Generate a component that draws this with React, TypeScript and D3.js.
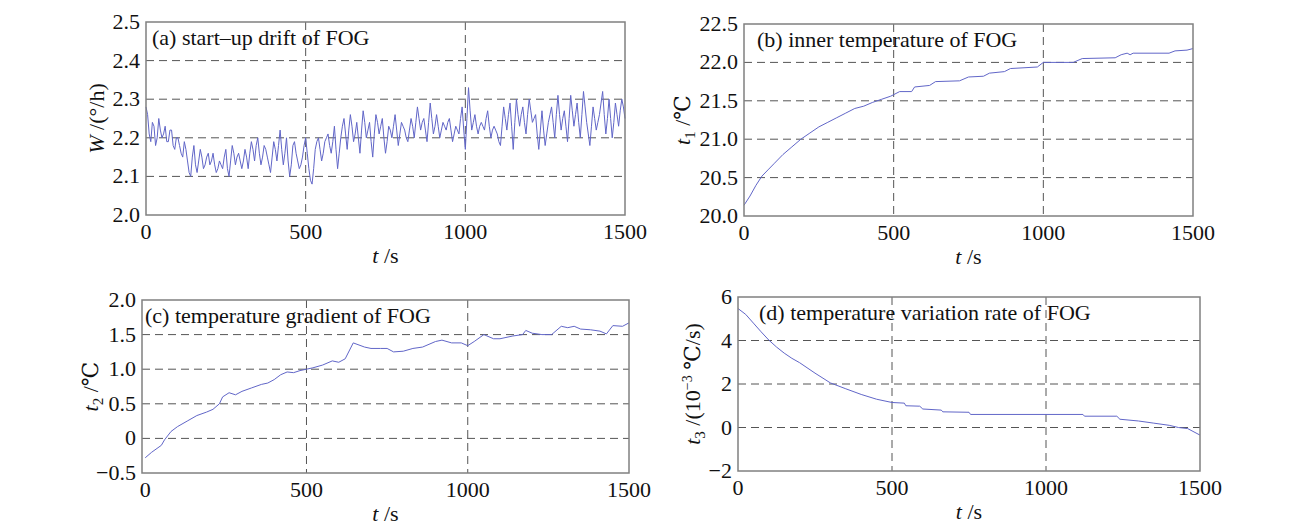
import React from "react";
import * as d3 from "d3";

// (a) start-up drift, sampled every 5 s
const driftTime = d3.range(0, 1501, 5);
const driftValue = [
  2.28, 2.26, 2.21, 2.19, 2.24, 2.23, 2.18, 2.2, 2.25, 2.22, 2.2, 2.21, 2.23, 2.19, 2.19, 2.22, 2.22, 2.18, 2.17, 2.2, 2.2,
  2.18, 2.16, 2.15, 2.19, 2.17, 2.14, 2.11, 2.1, 2.15, 2.18, 2.13, 2.11, 2.14, 2.17, 2.15, 2.12, 2.13, 2.15, 2.16, 2.13,
  2.14, 2.16, 2.13, 2.11, 2.12, 2.14, 2.13, 2.12, 2.15, 2.17, 2.12, 2.1, 2.14, 2.18, 2.16, 2.13, 2.15, 2.16, 2.14, 2.12,
  2.14, 2.17, 2.15, 2.12, 2.16, 2.19, 2.17, 2.14, 2.18, 2.2, 2.16, 2.13, 2.15, 2.18, 2.17, 2.15, 2.13, 2.11, 2.15, 2.19,
  2.17, 2.14, 2.18, 2.22, 2.17, 2.13, 2.16, 2.2, 2.14, 2.1, 2.13, 2.18, 2.19, 2.16, 2.14, 2.12, 2.13, 2.15, 2.18, 2.2,
  2.16, 2.12, 2.09, 2.08, 2.12, 2.17, 2.19, 2.2, 2.17, 2.14, 2.16, 2.19, 2.2, 2.21, 2.18, 2.16, 2.19, 2.23, 2.17, 2.12,
  2.16, 2.2, 2.23, 2.25, 2.21, 2.17, 2.22, 2.26, 2.23, 2.19, 2.21, 2.24, 2.2, 2.16, 2.22, 2.27, 2.24, 2.2, 2.22, 2.24,
  2.19, 2.15, 2.21, 2.26, 2.24, 2.21, 2.23, 2.25, 2.2, 2.16, 2.19, 2.23, 2.22, 2.2, 2.23, 2.26, 2.22, 2.18, 2.21, 2.24,
  2.23, 2.22, 2.2, 2.19, 2.22, 2.25, 2.23, 2.2, 2.24, 2.28, 2.25, 2.22, 2.24, 2.25, 2.22, 2.19, 2.24, 2.29, 2.25, 2.21,
  2.23, 2.26, 2.23, 2.2, 2.22, 2.24, 2.23, 2.22, 2.24, 2.25, 2.22, 2.19, 2.21, 2.23, 2.22, 2.21, 2.25, 2.28, 2.22, 2.17,
  2.25, 2.33, 2.27, 2.22, 2.24, 2.26, 2.23, 2.21, 2.23, 2.24, 2.23, 2.22, 2.25, 2.27, 2.23, 2.2, 2.22, 2.23, 2.22, 2.21,
  2.19, 2.18, 2.23, 2.28, 2.25, 2.22, 2.26, 2.29, 2.23, 2.17, 2.24, 2.3, 2.26, 2.23, 2.26, 2.28, 2.24, 2.21, 2.26, 2.3,
  2.27, 2.24, 2.25, 2.26, 2.21, 2.17, 2.22, 2.27, 2.22, 2.18, 2.21, 2.24, 2.26, 2.28, 2.24, 2.2, 2.26, 2.31, 2.26, 2.22,
  2.25, 2.27, 2.23, 2.19, 2.25, 2.31, 2.27, 2.23, 2.26, 2.29, 2.24, 2.2, 2.26, 2.32, 2.28, 2.24, 2.21, 2.18, 2.23, 2.28,
  2.25, 2.22, 2.24, 2.26, 2.29, 2.32, 2.26, 2.21, 2.25, 2.3, 2.25, 2.2, 2.24, 2.29, 2.26, 2.23, 2.27, 2.3, 2.28, 2.25,
];

// (b) inner temperature
const innerTime = [0, 20, 40, 60, 80, 100, 130, 160, 190, 220, 250, 280, 310, 340, 370, 400, 430, 460, 490, 520, 560, 570, 620, 640, 720, 750, 800, 820, 870, 890, 980, 1000, 1100, 1130, 1240, 1260, 1280, 1290, 1300, 1420, 1440, 1480, 1500];
const innerValue = [20.14, 20.26, 20.4, 20.52, 20.6, 20.68, 20.8, 20.9, 21.0, 21.08, 21.16, 21.22, 21.28, 21.34, 21.4, 21.43, 21.48, 21.52, 21.56, 21.62, 21.62, 21.68, 21.7, 21.75, 21.76, 21.81, 21.82, 21.86, 21.88, 21.92, 21.94, 22.0, 22.0, 22.05, 22.06, 22.1, 22.12, 22.1, 22.12, 22.12, 22.15, 22.16, 22.18];

// (c) temperature gradient
const gradTime = [0, 20, 50, 60, 80, 100, 130, 160, 190, 210, 230, 240, 260, 280, 300, 330, 360, 380, 400, 420, 440, 460, 480, 500, 520, 550, 580, 600, 620, 645, 680, 700, 730, 750, 770, 800, 830, 860, 900, 920, 950, 980, 1000, 1020, 1050, 1080, 1100, 1140, 1170, 1180, 1200, 1230, 1260, 1290, 1310, 1330, 1350, 1380, 1410, 1430, 1450, 1480, 1500];
const gradValue = [-0.28, -0.2, -0.1, -0.02, 0.1, 0.17, 0.25, 0.33, 0.38, 0.42, 0.5, 0.6, 0.66, 0.63, 0.68, 0.73, 0.78, 0.8, 0.85, 0.92, 0.96, 0.95, 0.98, 1.0, 1.02, 1.06, 1.12, 1.1, 1.15, 1.38, 1.32, 1.3, 1.3, 1.3, 1.25, 1.26, 1.3, 1.32, 1.4, 1.42, 1.38, 1.38, 1.34, 1.4, 1.5, 1.44, 1.44, 1.48, 1.5, 1.56, 1.52, 1.5, 1.5, 1.62, 1.6, 1.62, 1.58, 1.57, 1.55, 1.51, 1.63, 1.62, 1.67];

// (d) temperature variation rate, 10^-3 °C/s
const rateTime = [0, 25, 50, 75, 100, 125, 150, 175, 200, 250, 300, 350, 400, 450, 500, 540, 545, 590, 600, 660, 665, 750, 755, 1120, 1125, 1230, 1240, 1300, 1350, 1400, 1430, 1460, 1500];
const rateValue = [5.47, 5.2, 4.8, 4.4, 4.02, 3.7, 3.42, 3.18, 2.98, 2.5, 2.05, 1.78, 1.52, 1.3, 1.15, 1.12, 1.0, 0.98, 0.85, 0.8, 0.72, 0.7, 0.6, 0.6, 0.52, 0.52, 0.38, 0.3, 0.2, 0.1, 0.0, -0.05, -0.35];

const xTicks = [0, 500, 1000, 1500];
const driftTicks = [2.0, 2.1, 2.2, 2.3, 2.4, 2.5];
const innerTicks = [20.0, 20.5, 21.0, 21.5, 22.0, 22.5];
const gradTicks = [-0.5, 0, 0.5, 1.0, 1.5, 2.0];
const rateTicks = [-2, 0, 2, 4, 6];

const FONT = "'Liberation Serif', 'DejaVu Serif', serif";
const FS = 22;
const LINE = "#6166c8";
const GRID = "#555";

const fmt1 = (v: number) => (v === 0 ? "0" : d3.format(".1f")(v).replace("-", "\u2212"));
const fmtInt = (v: number) => d3.format("d")(v).replace("-", "\u2212");

type PanelProps = {
  left: number;
  right: number;
  top: number;
  bottom: number;
  xMin: number;
  yDomain: [number, number];
  yTicks: number[];
  yFmt: (v: number) => string;
  time: number[];
  value: number[];
  title: string;
  titleDx: number;
  yLabel: React.ReactNode;
  yLabelX: number;
};

function Panel(p: PanelProps) {
  const x = d3.scaleLinear().domain([p.xMin, 1500]).range([p.left, p.right]);
  const y = d3.scaleLinear().domain(p.yDomain).range([p.bottom, p.top]);
  const line = d3
    .line<number>()
    .x((_, i) => x(p.time[i]))
    .y((v) => y(v));
  const midY = (p.top + p.bottom) / 2;
  const midX = (p.left + p.right) / 2;

  return (
    <g fontFamily={FONT} fill="#111">
      <rect x={p.left} y={p.top} width={p.right - p.left} height={p.bottom - p.top} fill="#fff" />
      {p.yTicks.slice(1, -1).map((t) => (
        <line key={"gy" + t} x1={p.left} x2={p.right} y1={y(t)} y2={y(t)} stroke={GRID} strokeWidth={1} strokeDasharray="8,5" />
      ))}
      {[500, 1000].map((t) => (
        <line key={"gx" + t} x1={x(t)} x2={x(t)} y1={p.top} y2={p.bottom} stroke={GRID} strokeWidth={1} strokeDasharray="8,5" />
      ))}
      <path d={line(p.value) || ""} fill="none" stroke={LINE} strokeWidth={1} />
      <rect x={p.left} y={p.top} width={p.right - p.left} height={p.bottom - p.top} fill="none" stroke="#808080" strokeWidth={1.5} />
      <text x={p.left + p.titleDx} y={p.top + 23} fontSize={FS}>{p.title}</text>
      {xTicks.map((t) => (
        <text key={"tx" + t} x={x(t)} y={p.bottom + 24} fontSize={FS} textAnchor="middle">{t}</text>
      ))}
      {p.yTicks.map((t) => (
        <text key={"ty" + t} x={p.left - 6} y={y(t) + 7} fontSize={FS} textAnchor="end">{p.yFmt(t)}</text>
      ))}
      <text x={midX} y={p.bottom + 48} fontSize={FS} textAnchor="middle">
        <tspan fontStyle="italic">t</tspan> /s
      </text>
      <text transform={`translate(${p.yLabelX},${midY}) rotate(-90)`} fontSize={FS} textAnchor="middle">
        {p.yLabel}
      </text>
    </g>
  );
}

export default function App() {
  return (
    <svg width={1298} height={525} style={{ position: "absolute", left: 0, top: 0, background: "#fff" }}>
      <Panel
        left={146} right={625} top={22} bottom={215} xMin={0}
        yDomain={[2.0, 2.5]} yTicks={driftTicks} yFmt={fmt1}
        time={driftTime} value={driftValue}
        title="(a) start–up drift of FOG" titleDx={6}
        yLabelX={104}
        yLabel={<><tspan fontStyle="italic">W</tspan> /(°/h)</>}
      />
      <Panel
        left={744} right={1193} top={24} bottom={216} xMin={0}
        yDomain={[20.0, 22.5]} yTicks={innerTicks} yFmt={fmt1}
        time={innerTime} value={innerValue}
        title="(b) inner temperature of FOG" titleDx={13}
        yLabelX={690}
        yLabel={<><tspan fontStyle="italic">t</tspan><tspan fontSize={15} dy={5}>1</tspan><tspan dy={-5}> /℃</tspan></>}
      />
      <Panel
        left={142} right={629} top={300} bottom={473} xMin={-10}
        yDomain={[-0.5, 2.0]} yTicks={gradTicks} yFmt={fmt1}
        time={gradTime} value={gradValue}
        title="(c) temperature gradient of FOG" titleDx={3}
        yLabelX={98}
        yLabel={<><tspan fontStyle="italic">t</tspan><tspan fontSize={15} dy={5}>2</tspan><tspan dy={-5}> /℃</tspan></>}
      />
      <Panel
        left={738} right={1200} top={297} bottom={471} xMin={0}
        yDomain={[-2, 6]} yTicks={rateTicks} yFmt={fmtInt}
        time={rateTime} value={rateValue}
        title="(d) temperature variation rate of FOG" titleDx={21}
        yLabelX={700}
        yLabel={<><tspan fontStyle="italic">t</tspan><tspan fontSize={15} dy={5}>3</tspan><tspan dy={-5}> /(10</tspan><tspan fontSize={14} dy={-8}>−3</tspan><tspan dy={8}> ℃/s)</tspan></>}
      />
    </svg>
  );
}
